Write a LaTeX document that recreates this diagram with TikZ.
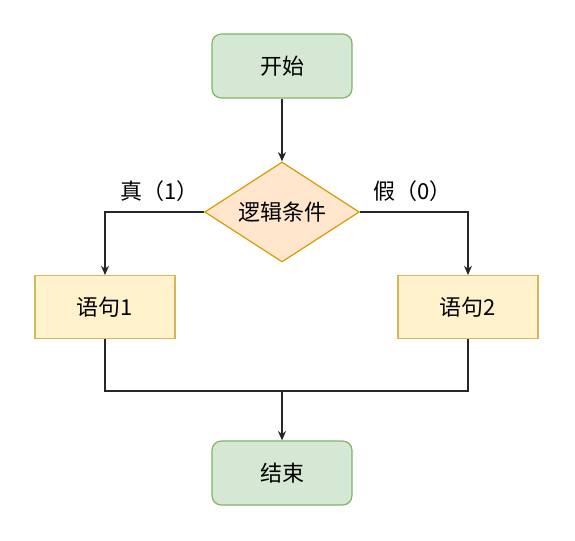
\documentclass[tikz,border=0pt]{standalone}
\usepackage{fontspec}
\setmainfont{Noto Sans CJK SC}
\usepackage{tikz}
\usetikzlibrary{shapes.geometric,arrows.meta}

\definecolor{termfill}{HTML}{D5E8D4}
\definecolor{termline}{HTML}{82B366}
\definecolor{condfill}{HTML}{FFE6CC}
\definecolor{condline}{HTML}{D79B00}
\definecolor{stmtfill}{HTML}{FFF2CC}
\definecolor{stmtline}{HTML}{D6B656}

\begin{document}
\begin{tikzpicture}[x=0.75pt,y=-0.75pt,
    font=\fontsize{16.5pt}{18pt}\selectfont,
    terminal/.style={draw=termline,fill=termfill,rounded corners=7pt,line width=0.9pt,
      minimum width=105pt,minimum height=48pt},
    decision/.style={diamond,aspect=1.55,draw=condline,fill=condfill,line width=0.9pt,inner sep=0pt,
      minimum width=116pt,minimum height=75pt},
    statement/.style={draw=stmtline,fill=stmtfill,line width=0.9pt,
      minimum width=105pt,minimum height=47pt},
    flow/.style={line width=0.8pt,draw=black!85,-{Stealth[length=7pt,width=6pt]}},
    plain/.style={line width=0.8pt,draw=black!85}]
          \useasboundingbox (0,0) rectangle (575,541);

          % Start and end
          \node[terminal] (start) at (282,66) {开始};
          \node[terminal] (stop) at (282,473) {结束};

          % Condition
          \node[decision] (cond) at (282,212) {逻辑条件};

          % Branches
          \node[statement] (stmtA) at (105,307) {语句1};
          \node[statement] (stmtB) at (468,307) {语句2};
          \coordinate (join) at (282,391);

          % Connections
          \draw[flow] (start) -- (cond);
          \draw[flow] (cond.west) -| (stmtA.north)
            node[pos=0.25,above,xshift=4pt,yshift=4pt] {真（1）};
          \draw[flow] (cond.east) -| (stmtB.north)
            node[pos=0.25,above,xshift=-1pt,yshift=4pt] {假（0）};
          \draw[plain] (stmtA.south) |- (join) -| (stmtB.south);
          \draw[flow] (join) -- (stop);
        \end{tikzpicture}
\end{document}
